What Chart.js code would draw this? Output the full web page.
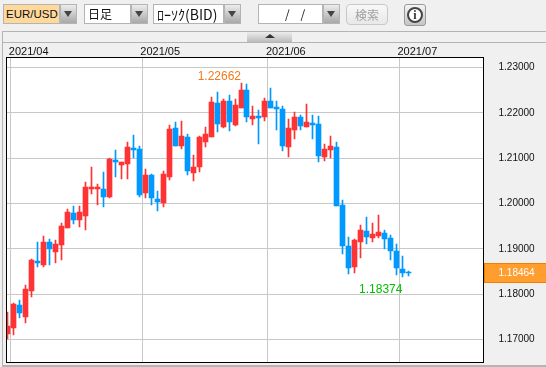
<!DOCTYPE html>
<html lang="ja">
  <head>
    <meta charset="UTF-8" />
    <title>EUR/USD</title>
    <style>
      html, body { margin: 0; padding: 0; overflow: hidden; }
      body { width: 546px; height: 367px; background: #f0f0f0; position: relative;
             font-family: "Noto Sans CJK JP", "Liberation Sans", sans-serif; }
      #myChart { position: absolute; left: 0; top: 0; }
      .abs { position: absolute; box-sizing: border-box; }
      .field { height: 20px; top: 4px; border: 1px solid #b4b4b4; background: #fff; color: #111;
               font-size: 12px; line-height: 18px; padding-left: 3px; white-space: pre; }
      .drop { width: 17px; height: 20px; top: 4px; border: 1px solid #b4b4b4;
              background: linear-gradient(#ececec, #a8a8a8); }
      .drop::after { content: ""; position: absolute; left: 3px; top: 6px; border-left: 4px solid transparent;
                     border-right: 4px solid transparent; border-top: 6px solid #444; }
      .line { background: #b4b4b4; }
    </style>
  </head>
  <body>
    <canvas id="myChart" width="546" height="367"></canvas>

    <div class="abs field" style="left:3px;width:57px;background:#ffd99c;font-family:'Liberation Sans';font-size:11.5px;padding-left:2px">EUR/USD</div>
    <div class="abs drop" style="left:60px"></div>
    <div class="abs field" style="left:84px;width:47px">日足</div>
    <div class="abs drop" style="left:131px"></div>
    <div class="abs field" style="left:153px;width:71px;font-size:14px;padding-left:3px">ﾛｰｿｸ(BID)</div>
    <div class="abs drop" style="left:224px"></div>
    <div class="abs field" style="left:258px;width:65px;padding-left:26px">/    /</div>
    <div class="abs drop" style="left:323px"></div>
    <div class="abs" style="left:346px;top:4px;width:42px;height:21px;border:1px solid #c8c8c8;border-radius:4px;background:linear-gradient(#f8f8f8,#e8e8e8);color:#a0a0a0;font-size:12px;line-height:19px;text-align:center">検索</div>
    <div class="abs" style="left:404px;top:4px;width:22px;height:22px;border:1px solid #999;border-radius:3px;background:linear-gradient(#f4f4f4,#c4c4c4)">
      <div class="abs" style="left:2px;top:2px;width:16px;height:16px;border:2px solid #444;border-radius:50%;background:#fff;color:#333;font:bold 12px/12px 'Liberation Serif';text-align:center">i</div>
    </div>

    <div class="abs line" style="left:2px;top:31px;width:544px;height:1px"></div>
    <div class="abs line" style="left:2px;top:42px;width:544px;height:1px"></div>
    <div class="abs line" style="left:2px;top:31px;width:1px;height:336px"></div>
    <div class="abs line" style="left:2px;top:365px;width:544px;height:2px"></div>
    <div class="abs" style="left:247px;top:32px;width:45px;height:10px;background:linear-gradient(#ececec,#bcbcbc)">
      <div class="abs" style="left:18px;top:2px;border-left:5px solid transparent;border-right:5px solid transparent;border-bottom:4px solid #333"></div>
    </div>

    <script src="https://cdn.jsdelivr.net/npm/chart.js"></script>

    <script>
      const dates = [
        "03/31",
        "04/01", "04/02", "04/05", "04/06", "04/07", "04/08", "04/09", "04/12", "04/13", "04/14", "04/15",
        "04/16", "04/19", "04/20", "04/21", "04/22", "04/23", "04/26", "04/27", "04/28", "04/29", "04/30",
        "05/03", "05/04", "05/05", "05/06", "05/07", "05/10", "05/11", "05/12", "05/13", "05/14", "05/17",
        "05/18", "05/19", "05/20", "05/21", "05/24", "05/25", "05/26", "05/27", "05/28", "05/31",
        "06/01", "06/02", "06/03", "06/04", "06/07", "06/08", "06/09", "06/10", "06/11", "06/14", "06/15",
        "06/16", "06/17", "06/18", "06/21", "06/22", "06/23", "06/24", "06/25", "06/28", "06/29", "06/30",
        "07/01", "07/02",
      ];

      const opens = [
        1.17116, 1.17249, 1.17756, 1.17491, 1.18065, 1.18727, 1.18639, 1.19146, 1.18926, 1.1908,
        1.19455, 1.19786, 1.19632, 1.1972, 1.20316, 1.20316, 1.20316, 1.2014, 1.20956, 1.20846,
        1.20868, 1.21221, 1.21198, 1.20228, 1.20625, 1.20096, 1.20007, 1.20581, 1.21662, 1.21265,
        1.21463, 1.20669, 1.20802, 1.21353, 1.21463, 1.22213, 1.21684, 1.22257, 1.21728, 1.22103,
        1.225, 1.2186, 1.21926, 1.21904, 1.22257, 1.22125, 1.2208, 1.21243, 1.21617, 1.21904,
        1.21684, 1.21772, 1.2175, 1.21022, 1.21176, 1.21243, 1.19963, 1.19058, 1.18595, 1.19146,
        1.19389, 1.19235, 1.19279, 1.19345, 1.19235, 1.18948, 1.18551, 1.18485,
      ];
      const highs = [
        1.17602, 1.178, 1.17867, 1.18197, 1.18771, 1.19146, 1.19279, 1.19213, 1.1919, 1.19566,
        1.19875, 1.19941, 1.19941, 1.20471, 1.20802, 1.20426, 1.20691, 1.21, 1.21176, 1.20912,
        1.21353, 1.21507, 1.21265, 1.20757, 1.20647, 1.20272, 1.20713, 1.21728, 1.21794, 1.21816,
        1.21529, 1.21066, 1.21485, 1.21684, 1.22345, 1.22456, 1.22301, 1.22389, 1.22301, 1.22662,
        1.22632, 1.22147, 1.22058, 1.22323, 1.22544, 1.22257, 1.22147, 1.2186, 1.22014, 1.21948,
        1.22191, 1.21948, 1.21926, 1.21309, 1.21485, 1.21353, 1.20074, 1.19257, 1.19213, 1.19521,
        1.19698, 1.19566, 1.19742, 1.19411, 1.19301, 1.19102, 1.18837, 1.18507,
      ];
      const lows = [
        1.17006, 1.17094, 1.17469, 1.17359, 1.17933, 1.18595, 1.18595, 1.18639, 1.18683, 1.18749,
        1.19455, 1.19544, 1.19477, 1.19411, 1.20206, 1.19963, 1.19919, 1.20118, 1.20581, 1.20537,
        1.20537, 1.21, 1.2014, 1.20118, 1.19963, 1.19831, 1.19919, 1.20515, 1.21265, 1.21198,
        1.20625, 1.20493, 1.20691, 1.21243, 1.21463, 1.21573, 1.21662, 1.21595, 1.21706, 1.22103,
        1.21794, 1.21728, 1.21309, 1.21816, 1.22103, 1.21617, 1.21154, 1.21022, 1.21419, 1.21617,
        1.21684, 1.21419, 1.20912, 1.20934, 1.21, 1.19941, 1.18882, 1.1844, 1.18462, 1.18793,
        1.19102, 1.19146, 1.19235, 1.18992, 1.18749, 1.18418, 1.18374, 1.18396,
      ];
      const closes = [
        1.17293, 1.17778, 1.1758, 1.18109, 1.18749, 1.18683, 1.19146, 1.18992, 1.19102, 1.19499,
        1.19809, 1.19632, 1.19809, 1.2036, 1.2036, 1.2036, 1.2014, 1.20978, 1.20912, 1.20912,
        1.21243, 1.21176, 1.20184, 1.20625, 1.20118, 1.20029, 1.20647, 1.21639, 1.21265, 1.21485,
        1.20713, 1.20802, 1.21463, 1.21529, 1.22235, 1.2175, 1.22257, 1.21794, 1.22169, 1.225,
        1.21904, 1.21926, 1.21882, 1.22257, 1.22103, 1.2208, 1.21265, 1.21662, 1.21904, 1.21706,
        1.21794, 1.21728, 1.21044, 1.21198, 1.21265, 1.19941, 1.19058, 1.18573, 1.1919, 1.19411,
        1.19257, 1.19323, 1.19367, 1.19213, 1.18948, 1.18573, 1.18462, 1.18464,
      ];

      const priceTicks = [1.17, 1.18, 1.19, 1.2, 1.21, 1.22, 1.23];
      const monthStarts = { "04/01": "2021/04", "05/03": "2021/05", "06/01": "2021/06", "07/01": "2021/07" };

      const upColor = "#ff3333";
      const downColor = "#0099ff";
      const candleColors = dates.map((d, i) => (closes[i] >= opens[i] ? upColor : downColor));

      // gridlines sit half a slot before the first candle of each month
      const monthTicks = dates
        .map((d, i) => (monthStarts[d] ? i - 0.5 : null))
        .filter((v) => v !== null);

      // candles are 1px wicks and 5px bodies, keep them on whole pixels so they stay crisp
      const snapBars = {
        id: "snapBars",
        afterDatasetsUpdate(chart) {
          chart.data.datasets.forEach((ds, n) => {
            chart.getDatasetMeta(n).data.forEach((bar) => {
              bar.x = Math.floor(bar.x) + 0.5;
              bar.y = Math.round(bar.y);
              bar.base = Math.round(bar.base);
            });
          });
        },
      };

      const panel = {
        id: "panel",
        beforeDraw(chart) {
          const { ctx, chartArea: a } = chart;
          ctx.fillStyle = "#ffffff";
          ctx.fillRect(a.left, a.top, a.right - a.left, a.bottom - a.top);
        },
        afterDraw(chart) {
          const { ctx, chartArea: a, scales } = chart;
          const y = scales.y;
          const x = scales.x;

          ctx.save();
          ctx.strokeStyle = "#000000";
          ctx.lineWidth = 1;
          ctx.strokeRect(a.left, a.top, a.right - a.left, a.bottom - a.top);

          // the high of the period and the low reached after it
          const high = Math.max(...highs);
          const highIndex = highs.indexOf(high);
          const low = Math.min(...lows.slice(highIndex));
          ctx.font = "12px 'Liberation Sans'";
          ctx.textAlign = "right";
          ctx.textBaseline = "middle";
          ctx.fillStyle = "#f47a1c";
          ctx.fillText(high.toFixed(5), x.getPixelForValue(highIndex), y.getPixelForValue(high) - 6);
          ctx.fillStyle = "#00c000";
          ctx.fillText(low.toFixed(5), x.getPixelForValue(lows.lastIndexOf(low)), y.getPixelForValue(low) + 12);

          // current price tag
          const last = closes[closes.length - 1];
          const ly = Math.round(y.getPixelForValue(last));
          ctx.fillStyle = "#ff9d2e";
          ctx.fillRect(484, ly - 9.5, 62, 19);
          ctx.strokeStyle = "#f08000";
          ctx.strokeRect(484.5, ly - 9.5, 62, 19);
          ctx.font = "10px 'Liberation Sans'";
          ctx.textAlign = "left";
          ctx.fillStyle = "#ffffff";
          ctx.fillText(last.toFixed(5), 498.5, ly + 0.5);
          ctx.restore();
        },
      };

      const chart1 = new Chart(document.getElementById("myChart"), {
        type: "bar",
        data: {
          datasets: [
            {
              label: "wick",
              data: dates.map((d, i) => ({ x: i, y: [lows[i], highs[i]] })),
              backgroundColor: candleColors,
              barThickness: 1,
              grouped: false,
              order: 2,
            },
            {
              label: "body",
              data: dates.map((d, i) => ({ x: i, y: [opens[i], closes[i]] })),
              backgroundColor: candleColors,
              barThickness: 5,
              grouped: false,
              order: 1,
            },
          ],
        },
        options: {
          responsive: false,
          animation: false,
          layout: { padding: { left: 6.5, top: 0, right: 0, bottom: 4.5 } },
          plugins: { legend: { display: false }, tooltip: { enabled: false } },
          scales: {
            x: {
              type: "linear",
              position: "top",
              offset: false,
              min: -0.2157,
              max: 79.55,
              afterBuildTicks: (axis) => {
                axis.ticks = monthTicks.map((value) => ({ value }));
              },
              afterFit: (axis) => {
                axis.height = 57.5;
                axis.paddingLeft = axis.paddingRight = axis.paddingTop = axis.paddingBottom = 0;
              },
              grid: { offset: false, color: "#c8c8c8", drawTicks: false },
              border: { display: false },
              ticks: {
                autoSkip: false,
                maxRotation: 0,
                align: "start",
                labelOffset: -2,
                padding: -1,
                color: "#111111",
                font: { family: "Liberation Sans", size: 11 },
                callback: (value) => monthStarts[dates[value + 0.5]],
              },
            },
            y: {
              position: "right",
              min: 1.164926,
              max: 1.232206,
              afterBuildTicks: (axis) => {
                axis.ticks = priceTicks.map((value) => ({ value }));
              },
              afterFit: (axis) => {
                axis.width = 62.5;
                axis.paddingLeft = axis.paddingRight = axis.paddingTop = axis.paddingBottom = 0;
              },
              grid: { color: "#c8c8c8", drawTicks: false },
              border: { display: false },
              ticks: {
                padding: 15,
                color: "#111111",
                font: { family: "Liberation Sans", size: 10 },
                callback: (value) => value.toFixed(5),
              },
            },
          },
        },
        plugins: [snapBars, panel],
      });
    </script>
  </body>
</html>
